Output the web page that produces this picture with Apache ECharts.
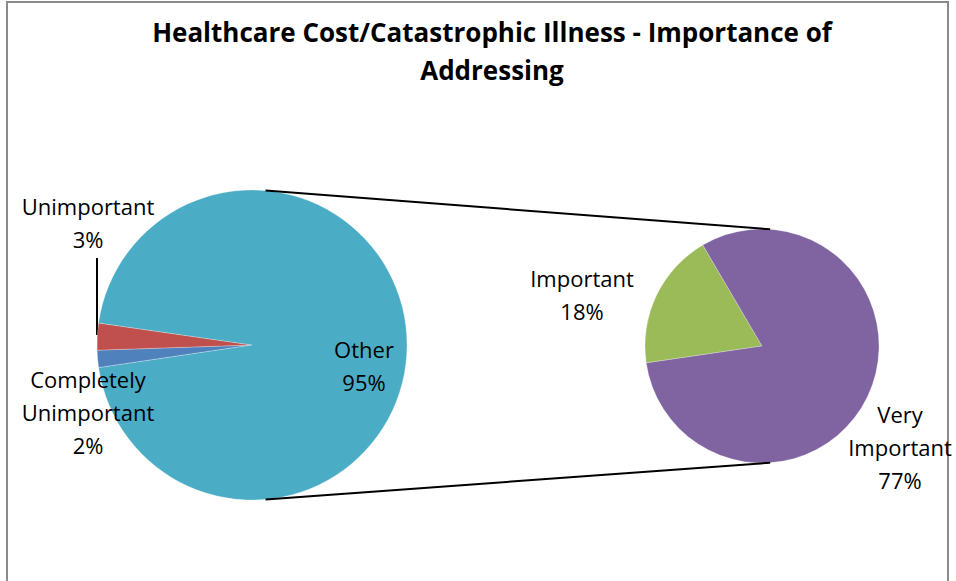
<!DOCTYPE html>
<html>
<head>
<meta charset="utf-8">
<script src="https://cdn.jsdelivr.net/npm/echarts@6/dist/echarts.min.js"></script>
<style>html,body{margin:0;padding:0;background:#fff;}#c{width:956px;height:581px;}</style>
</head>
<body>
<div id="c"></div>
<script>
// ---- data ----
const titleText = 'Healthcare Cost/Catastrophic Illness - Importance of\nAddressing';
const mainCategories = ['Completely Unimportant', 'Unimportant', 'Other'];
const mainValues = [1.8, 2.8, 95.4];
const subCategories = ['Important', 'Very Important'];
const subValues = [18.0, 77.4];

const mainColors = ['#4F81BD', '#C0504D', '#4BACC6'];
const subColors = ['#9BBB59', '#8064A2'];

// ---- layout ----
const FONT = '"Open Sans", "Noto Sans", sans-serif';
const main = { cx: 252, cy: 345, r: 155, start: 188.4 };
const sub = { cx: 762, cy: 346, r: 117, start: 188.3 };
const mainLabelPos = [[88, 412], [88, 222], [364, 365]];
const subLabelPos = [[582, 294], [900, 447]];

function fmt(p) {
  return p.name.replace(' ', '\n') + '\n' + Math.round(p.value) + '%';
}
function pt(c, deg) {
  const a = deg * Math.PI / 180;
  return [c.cx + c.r * Math.cos(a), c.cy - c.r * Math.sin(a)];
}

const chart = echarts.init(document.getElementById('c'), null, { renderer: 'svg' });
const labelStyle = { color: '#000', fontFamily: FONT, fontSize: 22, lineHeight: 33 };

const t1 = pt(main, 85), b1 = pt(main, -85), t2 = pt(sub, 86), b2 = pt(sub, -86);

chart.setOption({
  animation: false,
  backgroundColor: '#fff',
  title: {
    text: titleText,
    left: 487, top: 8, textAlign: 'center',
    textStyle: { fontFamily: FONT, fontWeight: 'bold', fontSize: 26, lineHeight: 38, color: '#000' }
  },
  graphic: [
    { type: 'rect', shape: { x: 7, y: 2, width: 941, height: 640 }, style: { fill: 'none', stroke: '#8a8a8a', lineWidth: 2 }, silent: true },
    { type: 'line', shape: { x1: t1[0], y1: t1[1], x2: t2[0], y2: t2[1] }, style: { stroke: '#000', lineWidth: 2 }, z: 10 },
    { type: 'line', shape: { x1: b1[0], y1: b1[1], x2: b2[0], y2: b2[1] }, style: { stroke: '#000', lineWidth: 2 }, z: 10 }
  ],
  series: [
    {
      type: 'pie',
      center: [main.cx, main.cy],
      radius: main.r,
      startAngle: main.start,
      clockwise: true,
      avoidLabelOverlap: false,
      itemStyle: { borderColor: 'rgba(255,255,255,0.5)', borderWidth: 0.5 },
      label: Object.assign({ show: true, formatter: fmt, position: 'outside' }, labelStyle),
      labelLine: { show: false },
      labelLayout: function (p) {
        const q = mainLabelPos[p.dataIndex];
        const r = { x: q[0], y: q[1], align: 'center', verticalAlign: 'middle' };
        if (p.dataIndex === 1) {
          r.labelLinePoints = [[97, 258], [97, 296], [97, 335]];
        }
        return r;
      },
      emphasis: { disabled: true },
      data: mainCategories.map((n, i) => ({
        name: n, value: mainValues[i], itemStyle: { color: mainColors[i] },
        labelLine: i === 1 ? { show: true, length: 5, length2: 5, lineStyle: { color: '#000', width: 2 } } : { show: false }
      }))
    },
    {
      type: 'pie',
      center: [sub.cx, sub.cy],
      radius: sub.r,
      startAngle: sub.start,
      clockwise: true,
      avoidLabelOverlap: false,
      itemStyle: { borderColor: 'rgba(255,255,255,0.5)', borderWidth: 0.5 },
      label: Object.assign({ show: true, formatter: fmt, position: 'outside' }, labelStyle),
      labelLine: { show: false },
      labelLayout: function (p) {
        const q = subLabelPos[p.dataIndex];
        return { x: q[0], y: q[1], align: 'center', verticalAlign: 'middle' };
      },
      emphasis: { disabled: true },
      data: subCategories.map((n, i) => ({ name: n, value: subValues[i], itemStyle: { color: subColors[i] } }))
    }
  ]
});
</script>
</body>
</html>
